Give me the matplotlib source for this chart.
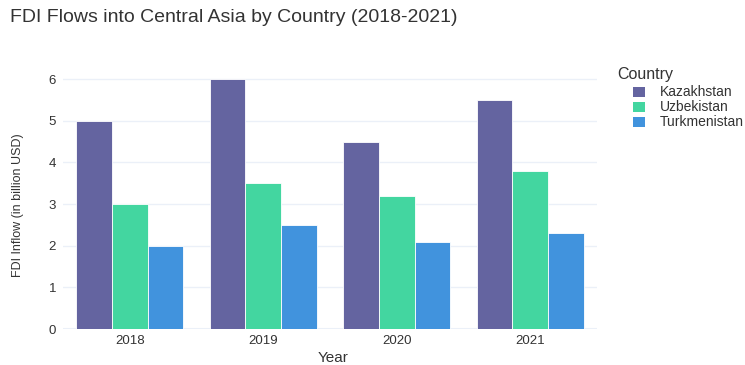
import matplotlib
matplotlib.use("Agg")
import matplotlib.pyplot as plt
from matplotlib.patches import Rectangle
import numpy as np

plt.rcParams['font.family'] = ['Liberation Sans', 'DejaVu Sans']

years = ["2018", "2019", "2020", "2021"]
countries = ["Kazakhstan", "Uzbekistan", "Turkmenistan"]
kazakhstan = [5.0, 6.0, 4.5, 5.5]
uzbekistan = [3.0, 3.5, 3.2, 3.8]
turkmenistan = [2.0, 2.5, 2.1, 2.3]
series = [kazakhstan, uzbekistan, turkmenistan]
colors = ["#6464a0", "#43d6a0", "#4193dd"]
text_color = "#333333"

W, H = 745, 365
fig = plt.figure(figsize=(W / 100, H / 100), dpi=100)
ax = fig.add_axes([63 / W, 36 / H, 534 / W, 263 / H])

x = np.arange(len(years))
group_w = 0.8
bw = group_w / len(series)
for i, (vals, name, c) in enumerate(zip(series, countries, colors)):
    offs = -group_w / 2 + bw * (i + 0.5)
    ax.bar(x + offs, vals, width=bw, color=c, edgecolor="white",
           linewidth=0.6, label=name, zorder=3)

ax.set_xlim(-0.5, len(years) - 0.5)
ax.set_ylim(0, 6.3158)
ax.set_yticks(range(0, 7))
ax.set_xticks(x)
ax.set_xticklabels(years)
ax.grid(axis="y", color="#ebf0f8", linewidth=1, zorder=0)
ax.axhline(0, color="#ebf0f8", linewidth=1.5, zorder=1)
for s in ax.spines.values():
    s.set_visible(False)
ax.tick_params(axis="both", length=0, labelsize=9.5, colors=text_color)
ax.tick_params(axis="x", pad=4)
ax.tick_params(axis="y", pad=5)

# axis titles
fig.text(333 / W, 1 - 358 / H, "Year", fontsize=11, color=text_color,
         ha="center", va="center")
fig.text(18 / W, 1 - 205 / H, "FDI Inflow (in billion USD)", fontsize=9,
         color=text_color, ha="center", va="center", rotation=90)

fig.text(10 / W, 1 - 18 / H, "FDI Flows into Central Asia by Country (2018-2021)",
         fontsize=14, color=text_color, ha="left", va="center")

# legend
fig.text(617 / W, 1 - 75 / H, "Country", fontsize=11.5, color=text_color,
         ha="left", va="center")
for k, (name, c) in enumerate(zip(countries, colors)):
    yc = 92 + 15 * k
    fig.patches.append(Rectangle((633 / W, 1 - (yc + 5) / H), 12 / W, 10 / H,
                                 transform=fig.transFigure, facecolor=c,
                                 edgecolor="none"))
    fig.text(660 / W, 1 - yc / H, name, fontsize=10, color=text_color,
             ha="left", va="center")

fig.savefig("out.png", dpi=100, facecolor="white")
